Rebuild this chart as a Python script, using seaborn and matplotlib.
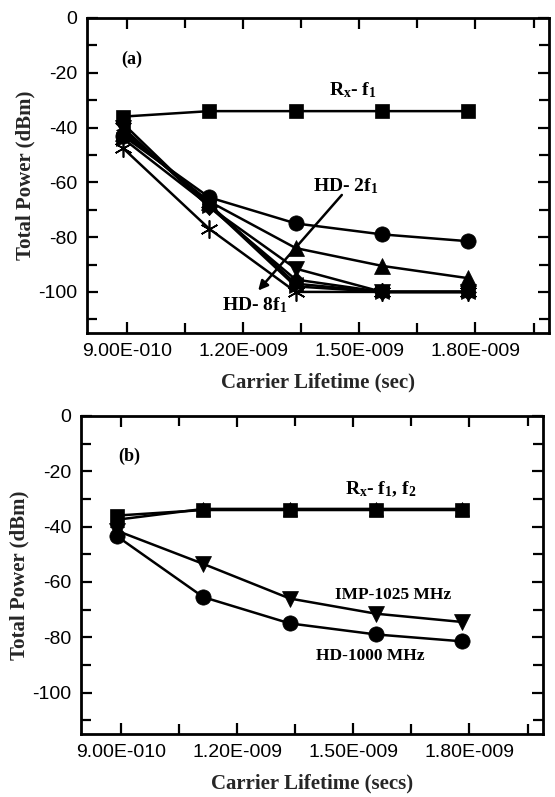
import numpy as np
import pandas as pd
import matplotlib
matplotlib.use("Agg")
import matplotlib.pyplot as plt
import seaborn as sns
from matplotlib.ticker import MultipleLocator, FixedLocator

# ---- data ----
lifetime = [0.89e-9, 1.113e-9, 1.336e-9, 1.559e-9, 1.782e-9]

# panel (a)
a_rx_f1 = [-36, -34, -34, -34, -34]
a_hd2 = [-43, -65.5, -75, -79, -81.5]
a_hd3 = [-42, -67, -84, -90.5, -95]
a_hd4 = [-40, -69, -91.5, -100, -100]
a_hd5 = [-38.5, -69, -95.5, -100, -100]
a_hd6 = [-41, -68, -97, -100, -100]
a_hd7 = [-44, -68.5, -98, -100, -100]
a_hd8 = [-47.5, -77, -100, -100, -100]

# panel (b)
b_rx_f1 = [-36, -34, -34, -34, -34]
b_rx_f2 = [-37.5, -33.6, -33.6, -33.6, -33.6]
b_imp1025 = [-41.5, -53.5, -66, -71.5, -74.5]
b_hd1000 = [-43.5, -65.5, -75, -79, -81.5]

xticks = [0.9e-9, 1.2e-9, 1.5e-9, 1.8e-9]
xticklabels = ["9.00E-010", "1.20E-009", "1.50E-009", "1.80E-009"]
yticks = [0, -20, -40, -60, -80, -100]
yticklabels = ["0", "-20", "-40", "-60", "-80", "-100"]

sns.set_theme(style="ticks")
plt.rcParams["font.family"] = ["Liberation Sans", "DejaVu Sans"]
plt.rcParams["mathtext.fontset"] = "custom"
plt.rcParams["mathtext.rm"] = "Liberation Serif:bold"
plt.rcParams["mathtext.it"] = "Liberation Serif:bold"
plt.rcParams["mathtext.bf"] = "Liberation Serif:bold"

fig = plt.figure(figsize=(5.55, 7.97), dpi=100)
W, H = 555, 797
ax1 = fig.add_axes([87 / W, 1 - 333 / H, (549 - 87) / W, (333 - 18) / H])
ax2 = fig.add_axes([81 / W, 1 - 734 / H, (543 - 81) / W, (734 - 416) / H])

asterisk = (6, 2, 0)


def draw(ax, y, marker, ms=10):
    mew = 1.2 if marker == asterisk else 0.5
    sns.lineplot(x=lifetime, y=y, ax=ax, color="black", marker=marker,
                 markersize=ms if marker != asterisk else ms + 3,
                 markeredgecolor="black", markerfacecolor="black",
                 markeredgewidth=mew, linewidth=1.8, legend=False)


draw(ax1, a_hd8, asterisk)
draw(ax1, a_hd7, ">")
draw(ax1, a_hd6, "<")
draw(ax1, a_hd5, "D", 8.5)
draw(ax1, a_hd4, "v", 11)
draw(ax1, a_hd3, "^", 11)
draw(ax1, a_hd2, "o", 11)
draw(ax1, a_rx_f1, "s", 10)

draw(ax2, b_hd1000, "o", 11)
draw(ax2, b_imp1025, "v", 11)
draw(ax2, b_rx_f2, "^", 10)
draw(ax2, b_rx_f1, "s", 10)

serif = ["Liberation Serif", "DejaVu Serif"]

for ax, xl in [(ax1, "Carrier Lifetime (sec)"), (ax2, "Carrier Lifetime (secs)")]:
    ax.set_xlim(0.797e-9, 1.99e-9)
    ax.set_ylim(-115, 0)
    ax.xaxis.set_major_locator(FixedLocator(xticks))
    ax.set_xticklabels(xticklabels)
    ax.xaxis.set_minor_locator(FixedLocator([1.05e-9, 1.35e-9, 1.65e-9, 1.95e-9]))
    ax.yaxis.set_major_locator(FixedLocator(yticks))
    ax.set_yticklabels(yticklabels)
    ax.yaxis.set_minor_locator(MultipleLocator(10))
    ax.tick_params(which="both", direction="in", top=True, right=True,
                   width=1.6, colors="black", labelsize=14, labelcolor="black")
    ax.tick_params(which="major", length=8, pad=7)
    ax.tick_params(which="minor", length=7)
    for s in ax.spines.values():
        s.set_linewidth(2)
        s.set_color("black")
    ax.set_xlabel(xl, family=serif, fontweight="bold", fontsize=15, labelpad=9)
    ax.set_ylabel("Total Power (dBm)", family=serif, fontweight="bold", fontsize=15, labelpad=2)
    ax.set_facecolor("white")

tk = dict(family=serif, fontweight="bold", color="black", ha="center", va="center")
ax1.text(0.912e-9, -15.2, "(a)", fontsize=13, **tk)
ax1.text(1.4825e-9, -26.5, r"R$_{x}$- f$_{1}$", fontsize=14, **tk)
ax1.text(1.464e-9, -61.5, r"HD- 2f$_{1}$", fontsize=14, **tk)
ax1.text(1.229e-9, -105, r"HD- 8f$_{1}$", fontsize=14, **tk)
ax1.annotate("", xy=(1.239e-9, -99.5), xytext=(1.455e-9, -64.6),
             arrowprops=dict(arrowstyle="-|>", color="black", lw=1.8,
                             mutation_scale=14, shrinkA=0, shrinkB=0))

ax2.text(0.921e-9, -14.6, "(b)", fontsize=13, **tk)
ax2.text(1.572e-9, -26.5, r"R$_{x}$- f$_{1}$, f$_{2}$", fontsize=14, **tk)
ax2.text(1.604e-9, -64.6, "IMP-1025 MHz", fontsize=12.5, **tk)
ax2.text(1.544e-9, -86.7, "HD-1000 MHz", fontsize=12.5, **tk)

fig.savefig("out.png", dpi=100, facecolor="white")
